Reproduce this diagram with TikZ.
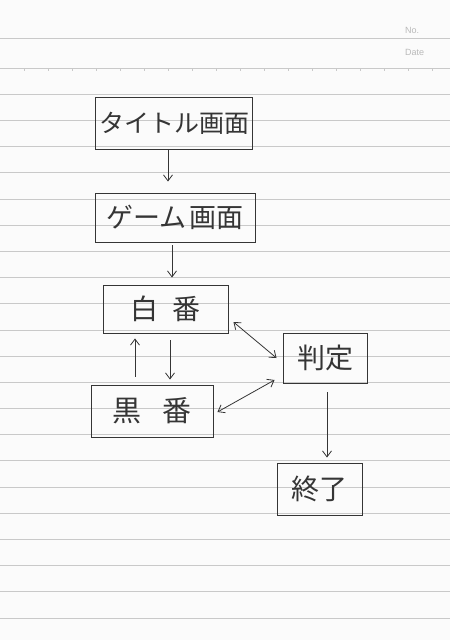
\documentclass[tikz,border=0pt]{standalone}
\usepackage{fontspec}
\setmainfont{Liberation Sans}
\newfontfamily\jp{Noto Sans CJK JP}
\usetikzlibrary{arrows.meta}
\definecolor{paper}{HTML}{FBFBFB}
\definecolor{rule}{HTML}{C9C9C9}
\definecolor{ink}{HTML}{353535}
\tikzset{
  box/.style={draw=ink, line width=0.9pt, rectangle, inner sep=0pt, text=ink, font=\jp\fontsize{25}{25}\selectfont},
  arr/.style={draw=ink, line width=0.8pt, -{Straight Barb[length=6pt,width=9pt]}},
  darr/.style={draw=ink, line width=0.8pt, {Straight Barb[length=6pt,width=9pt]}-{Straight Barb[length=6pt,width=9pt]}},
  ruleline/.style={draw=rule, line width=0.8pt},
  hdr/.style={text=gray!55, font=\fontsize{9}{9}\selectfont, inner sep=0pt}
}
\begin{document}
\begin{tikzpicture}[x=1pt,y=-1pt]
\fill[paper] (0,0) rectangle (450,640);
\useasboundingbox (0,0) rectangle (450,640);
% ruled lines
\draw[ruleline] (0,38) -- (450,38);
\foreach \k in {0,...,21} {\draw[ruleline] (0,{68+26.19*\k}) -- (450,{68+26.19*\k});}
\foreach \k in {0,...,18} {\draw[rule, line width=0.8pt] ({24+24*\k},68) -- ({24+24*\k},70.5);}
\node[hdr, anchor=west] (no) at (405,30) {No.};
\node[hdr, anchor=west] (date) at (405,52) {Date};
% nodes
\node[box, minimum width=157pt, minimum height=52pt] (title) at (174,123) {タイトル画面};
\node[box, minimum width=160pt, minimum height=49pt, font=\jp\fontsize{27}{27}\selectfont] (game) at (175,217.5) {ゲーム\hspace{3pt}画面};
\node[box, minimum width=125pt, minimum height=48pt, font=\jp\fontsize{28}{28}\selectfont] (shiro) at (165.5,309) {白\hspace{14pt}番};
\node[box, minimum width=122pt, minimum height=52pt, font=\jp\fontsize{29}{29}\selectfont] (kuro) at (152,411) {黒\hspace{22pt}番};
\node[box, minimum width=84pt, minimum height=50pt, font=\jp\fontsize{28}{28}\selectfont] (hantei) at (325,358) {判定};
\node[box, minimum width=85pt, minimum height=52pt, font=\jp\fontsize{28}{28}\selectfont] (end) at (319.5,489) {終了};
% connectors
\draw[arr] ([xshift=-6pt,yshift=-1pt]title.south) -- ([xshift=-7pt,yshift=11pt]game.north);
\draw[arr] ([xshift=-3pt,yshift=-3pt]game.south) -- ([xshift=6.5pt,yshift=7pt]shiro.north);
\draw[arr] ([xshift=4.5pt,yshift=-7pt]shiro.south) -- ([xshift=18pt,yshift=5pt]kuro.north);
\draw[arr] ([xshift=-17pt,yshift=8pt]kuro.north) -- ([xshift=-30.5pt,yshift=-5pt]shiro.south);
\draw[darr] ([xshift=5pt,yshift=-13pt]shiro.east) -- ([xshift=-6pt]hantei.west);
\draw[darr] ([xshift=4pt,yshift=-1pt]kuro.east) -- ([xshift=-8pt,yshift=-22pt]hantei.west);
\draw[arr] ([xshift=2pt,yshift=-9pt]hantei.south) -- ([xshift=7.5pt,yshift=5pt]end.north);
\end{tikzpicture}
\end{document}
